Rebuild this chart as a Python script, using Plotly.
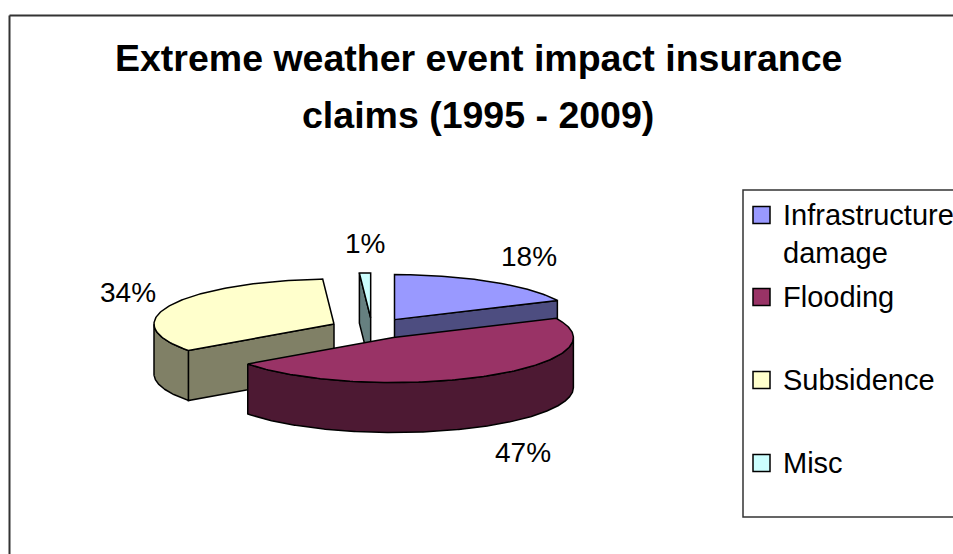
import math
import plotly.graph_objects as go

# Share of insurance claims by extreme-weather impact type, 1995-2009 (%)
categories = ["Infrastructure damage", "Flooding", "Subsidence", "Misc"]
shares = [18, 47, 34, 1]
legend_labels = ["Infrastructure<br>damage", "Flooding", "Subsidence", "Misc"]
top_colors = ["#9999FF", "#993366", "#FFFFCC", "#CCFFFF"]
side_colors = ["#4D4D80", "#4D1933", "#808066", "#668080"]

W, H = 953, 554
FONT = "Liberation Sans, Arial, sans-serif"

# geometry of the tilted, exploded pie (plot units equal screen pixels)
CX, CY = 372, 328.5
RX, RY = 180, 45
DEPTH = 50
EXPLODE = 42


def pt(cx, cy, deg, dz=0.0):
    r = math.radians(deg)
    return cx + RX * math.cos(r), cy - RY * math.sin(r) + dz


def arc(cx, cy, a_from, a_to, dz=0.0, step=1.0):
    n = max(2, int(abs(a_to - a_from) / step) + 1)
    return [pt(cx, cy, a_from + (a_to - a_from) * k / (n - 1), dz) for k in range(n)]


total = float(sum(shares))
slices = []
angle = 90.0
for i, v in enumerate(shares):
    sweep = 360.0 * v / total
    a2, a1 = angle, angle - sweep
    angle = a1
    mid = (a1 + a2) / 2
    m = math.radians(mid)
    cx = CX + EXPLODE * math.cos(m)
    cy = CY - EXPLODE * (RY / RX) * math.sin(m)
    slices.append(dict(i=i, a1=a1, a2=a2, mid=mid, cx=cx, cy=cy))

fig = go.Figure()


def poly(points, fill):
    xs = [p[0] for p in points] + [points[0][0]]
    ys = [p[1] for p in points] + [points[0][1]]
    fig.add_trace(go.Scatter(
        x=xs, y=ys, mode="lines", fill="toself", fillcolor=fill,
        line=dict(color="#000000", width=1.5), hoverinfo="skip", showlegend=False,
    ))


# paint slices from back to front
for s in sorted(slices, key=lambda d: d["cy"]):
    i, a1, a2, cx, cy = s["i"], s["a1"], s["a2"], s["cx"], s["cy"]
    side = side_colors[i]
    # radial cut faces facing the viewer
    for edge, visible in ((a1, math.cos(math.radians(a1)) > 1e-6),
                          (a2, math.cos(math.radians(a2)) < -1e-6)):
        if visible:
            ex, ey = pt(cx, cy, edge)
            poly([(cx, cy), (ex, ey), (ex, ey + DEPTH), (cx, cy + DEPTH)], side)
    # outer rim on the front half
    samples = [a1 + (a2 - a1) * k / 400 for k in range(401)]
    run = []
    runs = []
    for t in samples:
        if math.sin(math.radians(t)) <= 1e-9:
            run.append(t)
        elif run:
            runs.append(run)
            run = []
    if run:
        runs.append(run)
    for r in runs:
        if len(r) < 2:
            continue
        top = [pt(cx, cy, t) for t in r]
        bot = [pt(cx, cy, t, DEPTH) for t in reversed(r)]
        poly(top + bot, side)
    # top face
    poly([(cx, cy)] + arc(cx, cy, a1, a2), top_colors[i])

annotations = []
# percentage labels placed just outside each slice
for s in slices:
    i, mid, cx, cy = s["i"], s["mid"], s["cx"], s["cy"]
    c, sn = math.cos(math.radians(mid)), math.sin(math.radians(mid))
    lx = cx + (RX + 15) * c
    ly = cy - (RY + 30) * sn + (DEPTH if sn < 0 else 0)
    xanchor = "left" if c > 0.2 else ("right" if c < -0.2 else "center")
    annotations.append(dict(
        x=lx, y=ly, xref="x", yref="y", text=f"{shares[i]}%", showarrow=False,
        xanchor=xanchor, yanchor="middle", font=dict(family=FONT, size=28, color="#000000"),
    ))

# title
annotations.append(dict(
    x=478, y=58, xref="x", yref="y", text="<b>Extreme weather event impact insurance</b>",
    showarrow=False, xanchor="center", yanchor="middle",
    font=dict(family=FONT, size=37.5, color="#000000"),
))
annotations.append(dict(
    x=478, y=115, xref="x", yref="y", text="<b>claims (1995 - 2009)</b>",
    showarrow=False, xanchor="center", yanchor="middle",
    font=dict(family=FONT, size=37.5, color="#000000"),
))

shapes = [
    # chart area border (top and left edges)
    dict(type="line", xref="x", yref="y", x0=9.5, y0=H + 5, x1=9.5, y1=15.5,
         line=dict(color="#333333", width=2)),
    dict(type="line", xref="x", yref="y", x0=9.5, y0=15.5, x1=W + 5, y1=15.5,
         line=dict(color="#333333", width=2)),
    # legend frame
    dict(type="rect", xref="x", yref="y", x0=743, y0=190, x1=W + 20, y1=517,
         line=dict(color="#333333", width=1.5), fillcolor="rgba(0,0,0,0)"),
]

# legend entries
row_y = [215, 297, 380, 463]
for i, lab in enumerate(legend_labels):
    y = row_y[i]
    shapes.append(dict(type="rect", xref="x", yref="y", x0=753, x1=770, y0=y - 8.5, y1=y + 8.5,
                       fillcolor=top_colors[i], line=dict(color="#000000", width=1.5)))
    annotations.append(dict(
        x=781, y=y - 18.5, xref="x", yref="y", text=lab, showarrow=False,
        xanchor="left", yanchor="top", align="left",
        font=dict(family=FONT, size=29, color="#000000"),
    ))

fig.update_layout(
    width=W, height=H,
    margin=dict(l=0, r=0, t=0, b=0),
    paper_bgcolor="#FFFFFF", plot_bgcolor="#FFFFFF",
    xaxis=dict(range=[0, W], visible=False, fixedrange=True),
    yaxis=dict(range=[H, 0], visible=False, fixedrange=True),
    annotations=annotations, shapes=shapes,
    showlegend=False,
)

fig.write_html("out.html")
